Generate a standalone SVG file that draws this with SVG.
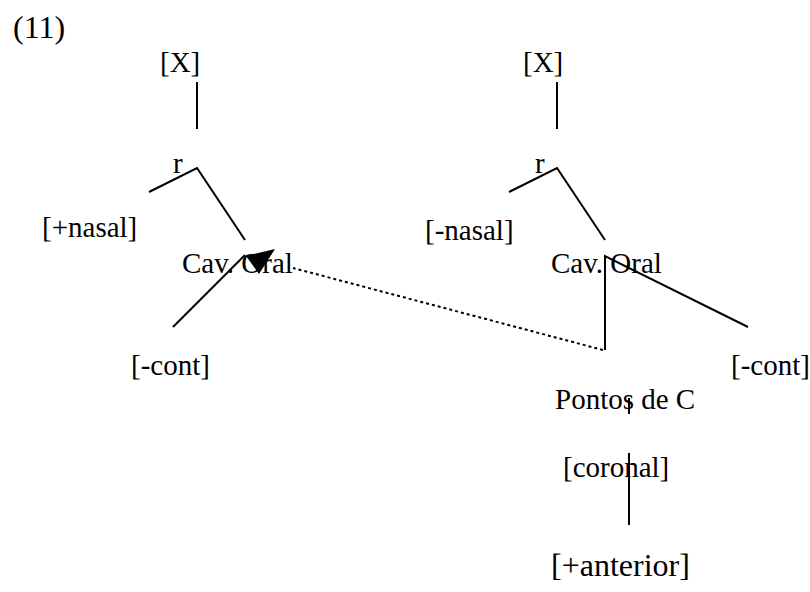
<svg xmlns="http://www.w3.org/2000/svg" width="810" height="592" viewBox="0 0 810 592">
<style>
text{font-family:"Liberation Serif","Times New Roman",serif;font-size:29px;fill:#000}
.big{font-size:32px}
.l{stroke:#000;stroke-width:2;fill:none}
.d{stroke:#000;stroke-width:2;fill:none;stroke-dasharray:3 3}
</style>
<rect width="810" height="592" fill="#fff"/>
<g id="label11"><text class="big" x="13" y="38">(11)</text></g>
<g id="X1"><text x="160" y="72">[X]</text></g>
<g id="r1"><text x="173" y="173">r</text></g>
<g id="nasalplus"><text x="42" y="237">[+nasal]</text></g>
<g id="cav1"><text x="182" y="273">Cav. Oral</text></g>
<g id="cont1"><text x="131" y="375">[-cont]</text></g>
<g id="X2"><text x="523" y="72">[X]</text></g>
<g id="r2"><text x="535" y="173">r</text></g>
<g id="nasalminus"><text x="425" y="240">[-nasal]</text></g>
<g id="cav2"><text x="551" y="273">Cav. Oral</text></g>
<g id="cont2"><text x="731" y="375">[-cont]</text></g>
<g id="pontos"><text x="555" y="409">Pontos de C</text></g>
<g id="coronal"><text x="563" y="477">[coronal]</text></g>
<g id="anterior"><text class="big" x="551" y="576">[+anterior]</text></g>
<g id="connectors">
<line class="l" x1="197" y1="82" x2="197" y2="129"/>
<polyline class="l" points="149,192 197,168 245,240"/>
<line class="l" x1="173" y1="327" x2="245" y2="255"/>
<line class="l" x1="557" y1="82" x2="557" y2="129"/>
<polyline class="l" points="509,192 557,168 605,240"/>
<polyline class="l" points="605,350 605,256 748,327"/>
<line class="l" x1="629" y1="398" x2="629" y2="414"/>
<line class="l" x1="629" y1="453" x2="629" y2="525"/>
<line class="d" x1="603" y1="350" x2="293" y2="268"/>
<polygon points="246,256 275,249 259,274" fill="#000"/>
</g>
</svg>
